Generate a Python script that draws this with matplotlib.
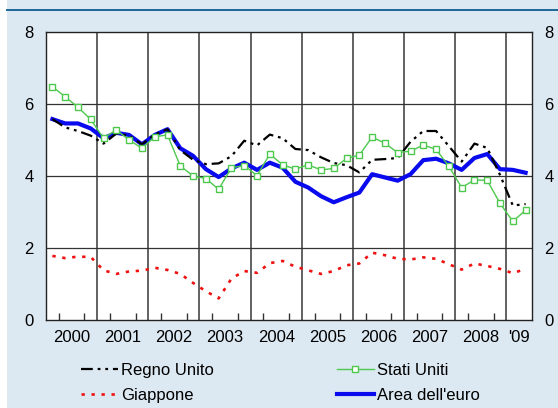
import numpy as np
import matplotlib
matplotlib.use("Agg")
import matplotlib.pyplot as plt
from matplotlib.patches import Rectangle
from matplotlib.lines import Line2D

plt.rcParams['font.family'] = ['Liberation Sans', 'DejaVu Sans']
plt.rcParams['lines.scale_dashes'] = False

# quarterly values, 2000 Q1 .. 2009 Q2
regno_unito = [5.58, 5.35, 5.25, 5.12, 4.90, 5.18, 5.12, 4.88, 5.15, 5.30,
               4.72, 4.45, 4.33, 4.35, 4.55, 4.98, 4.85, 5.15, 5.05, 4.75,
               4.72, 4.52, 4.36, 4.30, 4.10, 4.45, 4.47, 4.50, 4.95, 5.25,
               5.25, 4.83, 4.40, 4.90, 4.78, 4.03, 3.18, 3.22]
giappone = [1.78, 1.72, 1.76, 1.75, 1.38, 1.28, 1.35, 1.37, 1.45, 1.39,
            1.28, 1.03, 0.80, 0.60, 1.15, 1.36, 1.31, 1.58, 1.64, 1.48,
            1.38, 1.28, 1.36, 1.52, 1.57, 1.87, 1.80, 1.70, 1.68, 1.74,
            1.70, 1.55, 1.40, 1.57, 1.50, 1.42, 1.30, 1.42]
stati_uniti = [6.48, 6.20, 5.91, 5.57, 5.05, 5.28, 5.00, 4.77, 5.09, 5.14,
               4.28, 4.00, 3.93, 3.63, 4.23, 4.29, 4.01, 4.61, 4.31, 4.19,
               4.31, 4.17, 4.21, 4.49, 4.58, 5.08, 4.91, 4.65, 4.69, 4.86,
               4.74, 4.27, 3.68, 3.89, 3.88, 3.24, 2.74, 3.05]
area_euro = [5.58, 5.46, 5.46, 5.32, 5.05, 5.20, 5.14, 4.88, 5.14, 5.30,
             4.77, 4.56, 4.19, 3.97, 4.21, 4.37, 4.17, 4.37, 4.23, 3.84,
             3.68, 3.44, 3.27, 3.41, 3.54, 4.05, 3.96, 3.87, 4.05, 4.44,
             4.48, 4.35, 4.17, 4.50, 4.61, 4.19, 4.17, 4.09]

year_labels = ["2000", "2001", "2002", "2003", "2004", "2005",
               "2006", "2007", "2008", "'09"]
y_ticks = [0, 2, 4, 6, 8]

BG = '#dde9f2'
FS = 12
n_q = len(area_euro)
x = 2000 + (np.arange(n_q) + 0.5) / 4          # mid-quarter
x_end = 2000 + n_q / 4
years = np.arange(2000, 2010)
year_mid = [min(y + 0.5, (y + x_end) / 2) for y in years]

fig = plt.figure(figsize=(5.58, 4.08), dpi=100)
fig.patch.set_facecolor('white')
fig.patches.append(Rectangle((7 / 558, 0), 1, 1, transform=fig.transFigure,
                             facecolor=BG, edgecolor='none', zorder=-10))
fig.lines.append(Line2D([7 / 558, 1], [1 - 10 / 408] * 2, transform=fig.transFigure,
                        color='#1d6796', lw=1.4))

ax = fig.add_axes([46 / 558, 88 / 408, 486 / 558, 288 / 408])
ax.set_facecolor('white')

for yb in years[1:]:
    ax.axvline(yb, color='#555555', lw=1.3, zorder=1)
for yv in y_ticks[1:-1]:
    ax.axhline(yv, color='#333333', lw=0.9, zorder=1)

ax.plot(x, area_euro, color='#0a0aee', lw=3.0, zorder=3, label="Area dell'euro")
ax.plot(x, regno_unito, color='black', lw=1.6, dashes=(8.5, 3.5, 2, 3.5, 2, 3.5),
        zorder=4, label='Regno Unito')
ax.plot(x, giappone, color='#ee1111', lw=1.9, dashes=(2.4, 4.8), zorder=4,
        label='Giappone')
ax.plot(x, stati_uniti, color='#4ec84e', lw=1.0, marker='s', markersize=4.8,
        markerfacecolor='white', markeredgecolor='#4ec84e', markeredgewidth=1.0,
        zorder=5, label='Stati Uniti')

ax.set_xlim(2000, x_end)
ax.set_ylim(0, 8)
ax.set_yticks(y_ticks)
ax.tick_params(axis='y', length=0, labelleft=True, labelright=True, pad=9,
               labelsize=FS)
ax.set_xticks(year_mid, year_labels)
ax.tick_params(axis='x', which='major', length=0, pad=7, labelsize=FS)
quarters = [2000 + q / 4 for q in range(1, n_q) if q % 4 != 0]
ax.set_xticks(quarters, minor=True)
ax.tick_params(axis='x', which='minor', direction='in', length=5, width=1,
               color='#333333', top=False)
for sp in ax.spines.values():
    sp.set_color('#222222')
    sp.set_linewidth(1.0)

h, l = ax.get_legend_handles_labels()
lookup = dict(zip(l, h))
kw = dict(frameon=False, fontsize=FS, handlelength=2.2, handletextpad=0.18,
          labelspacing=0.58, borderpad=0, borderaxespad=0, loc='upper left')
fig.legend([lookup['Regno Unito'], lookup['Giappone']], ['Regno Unito', 'Giappone'],
           bbox_to_anchor=(81 / 558, 1 - 363 / 408), **kw)
fig.legend([lookup['Stati Uniti'], lookup["Area dell'euro"]],
           ['Stati Uniti', "Area dell'euro"],
           bbox_to_anchor=(337 / 558, 1 - 363 / 408), **kw)

fig.savefig('out.png', dpi=100, facecolor=fig.get_facecolor())
